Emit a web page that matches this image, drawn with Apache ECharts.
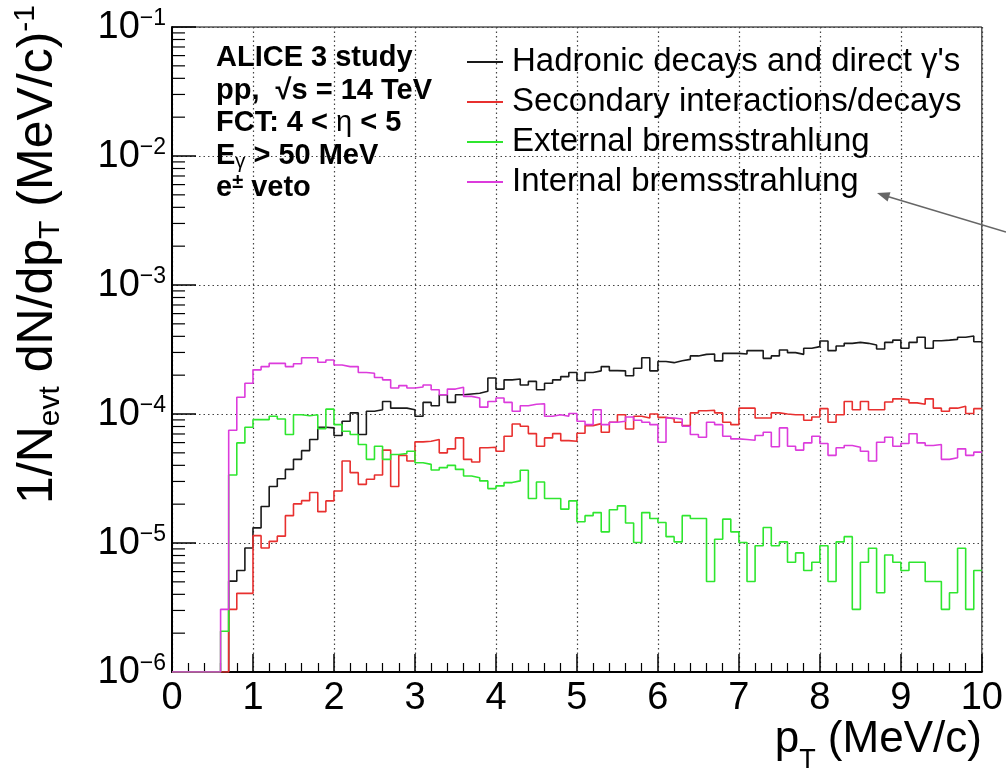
<!DOCTYPE html>
<html><head><meta charset="utf-8">
<script src="https://cdn.jsdelivr.net/npm/echarts@6/dist/echarts.min.js"></script>
<style>html,body{margin:0;padding:0;background:#fff}#c{width:1006px;height:776px}</style>
</head><body><div id="c"></div>
<script>
// ---- data ----
const nBins = 100;
const binWidth = 0.1;          // MeV/c
const xMin = 0, xMax = 10;
const yMin = 1e-6, yMax = 1e-1;
const seriesNames = ["Hadronic decays and direct \u03b3's", "Secondary interactions/decays", "External bremsstrahlung", "Internal bremsstrahlung"];
const hadronic = [0,0,0,0,0,0,0,5.06e-6,6.12e-6,9.15e-6,
1.31e-5,1.92e-5,2.74e-5,3.15e-5,3.72e-5,4.45e-5,5.2e-5,6.34e-5,7.89e-5,7.8e-5,
6.81e-5,8.78e-5,1.02e-4,6.93e-5,1.05e-4,1.08e-4,1.25e-4,1.11e-4,1.11e-4,1.08e-4,
9.6e-5,1.23e-4,1.16e-4,1.41e-4,1.23e-4,1.41e-4,1.43e-4,1.45e-4,1.50e-4,1.90e-4,
1.56e-4,1.84e-4,1.87e-4,1.68e-4,1.79e-4,1.54e-4,1.73e-4,1.84e-4,1.95e-4,2.10e-4,
1.82e-4,2.10e-4,2.16e-4,2.33e-4,2.17e-4,2.16e-4,1.98e-4,2.26e-4,2.73e-4,2.16e-4,
2.55e-4,2.50e-4,2.59e-4,2.65e-4,2.82e-4,2.90e-4,2.92e-4,2.58e-4,2.95e-4,2.95e-4,
2.92e-4,3.10e-4,3.10e-4,2.70e-4,2.82e-4,3.13e-4,2.99e-4,2.90e-4,3.23e-4,3.33e-4,
3.68e-4,3.10e-4,3.37e-4,3.53e-4,3.59e-4,3.53e-4,3.43e-4,3.19e-4,3.59e-4,3.74e-4,
3.23e-4,3.59e-4,3.93e-4,3.23e-4,3.70e-4,3.74e-4,3.79e-4,3.93e-4,4.02e-4,3.63e-4];
const secondary = [0,0,0,0,0,0,0,3.06e-6,4.07e-6,4.07e-6,
1.14e-5,9.15e-6,1.03e-5,1.13e-5,1.63e-5,2.01e-5,2.13e-5,2.46e-5,1.75e-5,2.12e-5,
2.53e-5,4.32e-5,3.51e-5,2.85e-5,3.12e-5,3.37e-5,5.25e-5,2.74e-5,4.78e-5,4.32e-5,
6.08e-5,6.15e-5,6.34e-5,5.0e-5,5.37e-5,6.53e-5,4.45e-5,4.24e-5,5.47e-5,5.53e-5,
5.15e-5,6.73e-5,8.37e-5,8.03e-5,7.05e-5,5.63e-5,6.53e-5,7.05e-5,6.22e-5,6.15e-5,
7.1e-5,8.13e-5,8.42e-5,7.22e-5,8.62e-5,9.88e-5,7.66e-5,9.6e-5,9.31e-5,1.0e-4,
9.42e-5,9.2e-5,8.62e-5,8.13e-5,1.02e-4,1.06e-4,1.07e-4,1.02e-4,8.62e-5,8.27e-5,
1.11e-4,1.11e-4,9.31e-5,9.31e-5,1.02e-4,1.0e-4,9.88e-5,9.88e-5,8.94e-5,9.48e-5,
1.10e-4,8.62e-5,9.88e-5,1.25e-4,1.08e-4,1.25e-4,1.08e-4,1.08e-4,1.24e-4,1.31e-4,
1.29e-4,1.22e-4,1.19e-4,1.31e-4,1.11e-4,1.05e-4,1.11e-4,1.15e-4,1.01e-4,1.10e-4];
const externalBrems = [0,0,0,0,0,0,2.07e-6,3.37e-5,5.97e-5,7.89e-5,
9.04e-5,9.04e-5,9.6e-5,9.15e-5,6.93e-5,9.88e-5,9.7e-5,9.88e-5,7.70e-5,1.09e-4,
8.27e-5,7.35e-5,6.93e-5,5.80e-5,4.45e-5,5.63e-5,4.45e-5,4.85e-5,4.94e-5,5.15e-5,
4.19e-5,4.07e-5,3.68e-5,3.84e-5,4.0e-5,3.72e-5,3.31e-5,3.21e-5,3.03e-5,2.64e-5,
2.77e-5,2.94e-5,3.03e-5,3.66e-5,2.21e-5,2.97e-5,2.21e-5,2.21e-5,1.83e-5,2.12e-5,
1.46e-5,1.63e-5,1.72e-5,1.22e-5,1.81e-5,1.94e-5,1.43e-5,1.01e-5,1.72e-5,1.55e-5,
1.44e-5,1.12e-5,1.02e-5,1.63e-5,1.55e-5,1.55e-5,5.03e-6,1.07e-5,1.53e-5,1.22e-5,
1.01e-5,5.03e-6,9.53e-6,1.32e-5,9.53e-6,1.02e-5,7.1e-6,8.38e-6,6.12e-6,7.1e-6,
9.53e-6,5.03e-6,1.02e-5,1.12e-5,3.06e-6,7.1e-6,9.1e-6,4.11e-6,8.07e-6,7.1e-6,
6.12e-6,7.1e-6,7.1e-6,5.03e-6,5.03e-6,3.06e-6,4.11e-6,9.1e-6,3.06e-6,6.12e-6];
const internalBrems = [0,0,0,0,0,0,3.06e-6,7.48e-5,1.35e-4,1.73e-4,
2.20e-4,2.33e-4,2.47e-4,2.47e-4,2.33e-4,2.45e-4,2.73e-4,2.73e-4,2.52e-4,2.62e-4,
2.40e-4,2.33e-4,2.33e-4,2.10e-4,2.07e-4,1.92e-4,1.84e-4,1.59e-4,1.66e-4,1.59e-4,
1.62e-4,1.68e-4,1.54e-4,1.41e-4,1.56e-4,1.61e-4,1.37e-4,1.33e-4,1.13e-4,1.25e-4,
1.33e-4,1.23e-4,1.05e-4,1.16e-4,1.19e-4,1.20e-4,9.6e-5,9.88e-5,9.6e-5,1.01e-4,
8.78e-5,8.27e-5,1.08e-4,8.27e-5,8.62e-5,8.78e-5,9.48e-5,8.94e-5,8.62e-5,8.27e-5,
6.04e-5,9.31e-5,9.15e-5,8.03e-5,6.93e-5,6.61e-5,8.62e-5,8.27e-5,6.73e-5,6.41e-5,
6.34e-5,6.26e-5,6.81e-5,7.22e-5,5.57e-5,7.80e-5,5.63e-5,5.25e-5,5.97e-5,6.73e-5,
5.90e-5,4.78e-5,5.47e-5,5.70e-5,5.53e-5,5.15e-5,4.32e-5,6.04e-5,6.61e-5,5.63e-5,
5.90e-5,7.02e-5,5.97e-5,5.70e-5,5.80e-5,4.45e-5,4.58e-5,5.37e-5,4.78e-5,5.06e-5];
const yMinorTicks = [2e-6,3e-6,4e-6,5e-6,6e-6,7e-6,8e-6,9e-6,
2e-5,3e-5,4e-5,5e-5,6e-5,7e-5,8e-5,9e-5,
2e-4,3e-4,4e-4,5e-4,6e-4,7e-4,8e-4,9e-4,
2e-3,3e-3,4e-3,5e-3,6e-3,7e-3,8e-3,9e-3,
2e-2,3e-2,4e-2,5e-2,6e-2,7e-2,8e-2,9e-2];
const colors = ['#1a1a1a', '#e8302f', '#2fe62f', '#dc3bdc'];

// ---- build ----
const FONT = '"Liberation Sans", Arial, Helvetica, sans-serif';
function histData(vals) {
  const d = [];
  for (let i = 0; i < nBins; i++) {
    const x = +(xMin + i * binWidth).toFixed(4);
    d.push([x, vals[i] > 0 ? vals[i] : yMin]);
  }
  d.push([xMax, vals[nBins - 1] > 0 ? vals[nBins - 1] : yMin]);
  return d;
}
const allVals = [hadronic, secondary, externalBrems, internalBrems];
const histSeries = allVals.map((v, k) => ({
  name: seriesNames[k], type: 'line', step: 'end', symbol: 'none', showSymbol: false,
  data: histData(v), clip: true, z: 3 + k,
  lineStyle: { color: colors[k], width: 1.6 }, itemStyle: { color: colors[k] },
  emphasis: { disabled: true }, animation: false
}));

const chart = echarts.init(document.getElementById('c'), null, { renderer: 'canvas' });
const supFmt = v => {
  const e = Math.round(Math.log10(v));
  return '{b|10}{s|' + (e < 0 ? '\u2212' : '') + Math.abs(e) + '}';
};
chart.setOption({
  backgroundColor: '#fff',
  animation: false,
  textStyle: { fontFamily: FONT },
  grid: { left: 172, right: 20, top: 27, bottom: 104, show: true, borderColor: '#000', borderWidth: 1, backgroundColor: 'transparent' },
  title: {
    left: 211, top: 37,
    text: '{b|ALICE 3 study}\n{b|pp,  \u221As = 14 TeV}\n{b|FCT: 4 < }{n|\u03b7}{b| < 5}\n{b|E}{bs|\u03b3}{b| > 50 MeV}\n{b|e}{bu|\u00b1}{b| veto}',
    textStyle: {
      rich: {
        b: { fontSize: 29, fontWeight: 'bold', fontFamily: FONT, color: '#000', lineHeight: 32.5 },
        n: { fontSize: 29, fontWeight: 'normal', fontFamily: FONT, color: '#000', lineHeight: 32.5 },
        bs: { fontSize: 20, fontWeight: 'normal', fontFamily: FONT, color: '#000', lineHeight: 20, verticalAlign: 'bottom' },
        bu: { fontSize: 20, fontWeight: 'bold', fontFamily: FONT, color: '#000', lineHeight: 20, verticalAlign: 'top' }
      }
    }
  },
  legend: {
    orient: 'vertical', left: 462, top: 39, itemWidth: 36, itemHeight: 2, itemGap: 4,
    icon: 'rect',
    data: seriesNames,
    textStyle: { fontSize: 33, fontFamily: FONT, color: '#000', lineHeight: 36, padding: [0, 0, 0, 4] },
    selectedMode: false
  },
  xAxis: {
    type: 'value', min: xMin, max: xMax, interval: 1,
    name: '{p|p}{s|T}{p| (MeV/c)}', nameLocation: 'end', nameGap: 0,
    nameTextStyle: {
      align: 'right', verticalAlign: 'top', padding: [44, 0, 0, 0],
      rich: {
        p: { fontSize: 44, fontFamily: FONT, color: '#000', lineHeight: 48 },
        s: { fontSize: 27, fontFamily: FONT, color: '#000', lineHeight: 27, verticalAlign: 'bottom', padding: [0, 0, -10, 0] }
      }
    },
    axisLine: { onZero: false, lineStyle: { color: '#000', width: 2 } },
    axisTick: { inside: true, length: 18, lineStyle: { color: '#000', width: 1.5 } },
    minorTick: { show: true, splitNumber: 5, length: 9, lineStyle: { color: '#000', width: 1.2 } },
    axisLabel: { fontSize: 38, color: '#000', margin: 8, fontFamily: FONT },
    splitLine: { show: true, lineStyle: { color: '#444', width: 1.2, type: [1.5, 3] } }
  },
  yAxis: {
    type: 'log', logBase: 10, min: yMin, max: yMax, splitNumber: 5,
    name: '{p|1/N}{s|evt}{p| dN/dp}{s|T}{p| (MeV/c)}{u|-1}',
    nameLocation: 'end', nameRotate: 90, nameGap: 22,
    nameTextStyle: {
      align: 'right', verticalAlign: 'bottom', padding: [0, 0, 106, 0],
      rich: {
        p: { fontSize: 50, fontFamily: FONT, color: '#000', lineHeight: 55 },
        s: { fontSize: 30, fontFamily: FONT, color: '#000', lineHeight: 30, verticalAlign: 'bottom' },
        u: { fontSize: 30, fontFamily: FONT, color: '#000', lineHeight: 30, verticalAlign: 'top' }
      }
    },
    axisLine: { show: true, lineStyle: { color: '#000', width: 2 } },
    axisTick: { show: true, inside: true, length: 24, lineStyle: { color: '#000', width: 1.5 } },
    axisLabel: {
      formatter: supFmt, margin: 6,
      rich: {
        b: { fontSize: 38, fontFamily: FONT, color: '#000', lineHeight: 40, verticalAlign: 'bottom' },
        s: { fontSize: 23, fontFamily: FONT, color: '#000', lineHeight: 23, verticalAlign: 'top' }
      }
    },
    splitLine: { show: true, lineStyle: { color: '#444', width: 1.2, type: [1.5, 3] } }
  },
  graphic: [
    { type: 'line', shape: { x1: 1006, y1: 232, x2: 886, y2: 196 }, style: { stroke: '#666', lineWidth: 1.6 }, z: 10 },
    { type: 'polygon', shape: { points: [[877, 193], [890.5, 192.3], [887.6, 201.5]] }, style: { fill: '#666' }, z: 10 }
  ],
  series: [
    ...histSeries,
    {
      name: 'yMinor', type: 'custom', silent: true, z: 2, animation: false,
      data: yMinorTicks.map(v => [xMin, v]),
      encode: { x: 0, y: 1 },
      renderItem: (params, api) => {
        const p = api.coord([api.value(0), api.value(1)]);
        return { type: 'line', shape: { x1: p[0], y1: p[1], x2: p[0] + 13, y2: p[1] }, style: { stroke: '#000', lineWidth: 1.2 } };
      }
    }
  ]
});
</script></body></html>
